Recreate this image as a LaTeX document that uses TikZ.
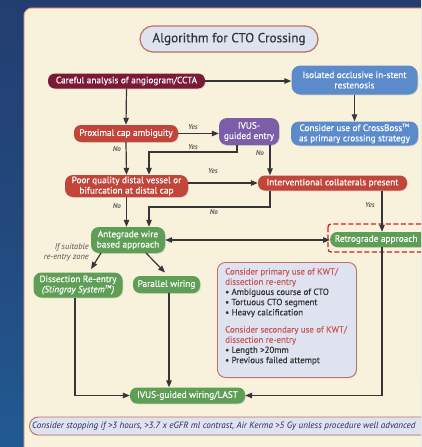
\documentclass[tikz,border=0pt]{standalone}
\usepackage{fontspec}
\setmainfont{PT Sans}
\newfontfamily\semib[FakeBold=0.35]{PT Sans}
\usetikzlibrary{arrows.meta,shadows,calc}
\definecolor{navytop}{HTML}{233D70}
\definecolor{navybot}{HTML}{215A92}
\definecolor{cream}{HTML}{F8F1DC}
\definecolor{panelborder}{HTML}{EFA77A}
\definecolor{maroonbox}{HTML}{7A1A35}
\definecolor{bluebox}{HTML}{5B8BCB}
\definecolor{redbox}{HTML}{C2453A}
\definecolor{purplebox}{HTML}{7B5EA7}
\definecolor{greenbox}{HTML}{5E9E55}
\definecolor{lav}{HTML}{DFE3F0}
\definecolor{lavborder}{HTML}{C0706A}
\definecolor{linec}{HTML}{363636}
\definecolor{hdr}{HTML}{C8585A}
\definecolor{txtgrey}{HTML}{333333}
\definecolor{dashred}{HTML}{D62020}
\tikzset{
  fbox/.style={rounded corners=7pt, text=white, font=\semib\fontsize{9.3}{10.3}\selectfont,
    inner xsep=1pt, inner ysep=0.5pt, align=center,
    drop shadow={opacity=0.25, shadow xshift=0.8pt, shadow yshift=-0.8pt}},
  conn/.style={draw=linec, line width=1.2pt, -{Triangle[length=7pt,width=5.5pt]}},
  lbl/.style={font=\fontsize{7.2}{7}\selectfont\bfseries\itshape, text=linec!75},
  infobox/.style={rounded corners=8pt, fill=lav, draw=lavborder, line width=0.9pt,
    drop shadow={opacity=0.2, shadow xshift=0.8pt, shadow yshift=-0.8pt}},
}
\begin{document}
\begin{tikzpicture}[x=1pt,y=-1pt]
\useasboundingbox (0,0) rectangle (421,447);
\clip (0,0) rectangle (421,447);
\shade[top color=navytop, bottom color=navybot, middle color=navytop!60!navybot] (0,0) rectangle (421,447);
\draw[fill=cream, draw=panelborder, line width=1pt, rounded corners=8pt] (24,8) rectangle (460,470);

% title
\node[infobox, rounded corners=13pt, minimum width=178pt, minimum height=26pt, line width=1.2pt,
  font=\semib\fontsize{13.2}{14}\selectfont, text=txtgrey] (title) at (229,39) {Algorithm for CTO Crossing};

% nodes
\node[fbox, fill=maroonbox, minimum width=157pt, minimum height=15pt] (careful) at (126.5,81) {Careful analysis of angiogram/CCTA};
\node[fbox, fill=bluebox, minimum width=126pt, minimum height=29pt, rounded corners=9pt] (isolated) at (354.5,80) {Isolated occlusive in-stent\\restenosis};
\node[fbox, fill=redbox, minimum width=104pt, minimum height=17pt] (proximal) at (126,133.5) {Proximal cap ambiguity};
\node[fbox, fill=purplebox, minimum width=60pt, minimum height=27pt, rounded corners=8pt] (ivus) at (249,131.5) {IVUS-\\guided entry};
\node[fbox, fill=bluebox, minimum width=127pt, minimum height=24pt, rounded corners=8pt] (crossboss) at (354.5,133.5) {Consider use of CrossBoss\textsuperscript{\tiny TM}\\as primary crossing strategy};
\node[fbox, fill=redbox, minimum width=123pt, minimum height=22pt, rounded corners=8pt] (poor) at (126.5,186) {Poor quality distal vessel or\\bifurcation at distal cap};
\node[fbox, fill=redbox, minimum width=149pt, minimum height=15pt] (interv) at (332.5,183) {Interventional collaterals present};
\node[fbox, fill=greenbox, minimum width=74pt, minimum height=26pt, rounded corners=8pt] (antegrade) at (128,240) {Antegrade wire\\based approach};
\node[fbox, fill=greenbox, minimum height=15pt, anchor=west, inner xsep=3pt, minimum width=100pt, align=left] (retro) at (330,239.5) {Retrograde approach\hspace*{8pt}};
\node[fbox, fill=greenbox, minimum width=89pt, minimum height=25pt, rounded corners=8pt] (dissection) at (78,285) {Dissection Re-entry\\\textit{(Stingray System\textsuperscript{\tiny TM})}};
\node[fbox, fill=greenbox, minimum width=67pt, minimum height=17pt] (parallel) at (166.5,284.5) {Parallel wiring};
\node[fbox, fill=greenbox, minimum width=115pt, minimum height=16pt] (wiring) at (187.5,395.5) {IVUS-guided wiring/LAST};

% dashed retrograde frame
\draw[dashred, dashed, dash pattern=on 5pt off 2.5pt, line width=1.3pt, rounded corners=3pt] (328,224) rectangle (440,252);

% info box
\node[infobox, minimum width=139pt, minimum height=115pt, anchor=north west] (info) at (217,262) {};
\node[anchor=north west, align=left, font=\semib\fontsize{8.9}{10.2}\selectfont, text=txtgrey, inner sep=0pt] (infotext) at (225,268) {%
\textcolor{hdr}{Consider primary use of KWT/}\\
\textcolor{hdr}{dissection re-entry}\\
• Ambiguous course of CTO\\
• Tortuous CTO segment\\
• Heavy calcification\\[7pt]
\textcolor{hdr}{Consider secondary use of KWT/}\\
\textcolor{hdr}{dissection re-entry}\\
• Length >20mm\\
• Previous failed attempt};

% bottom box
\node[infobox, rounded corners=9pt, minimum width=420pt, minimum height=18pt, anchor=west] (stop) at (29,426) {};
\node[anchor=west, font=\fontsize{9.1}{9}\selectfont\itshape, text=txtgrey!80!blue, inner sep=0pt] (stoptext) at (32,426) {Consider stopping if >3 hours, >3.7 x eGFR ml contrast, Air Kerma >5 Gy unless procedure well advanced};

% If suitable label
\node[anchor=east, align=right, font=\fontsize{8.4}{10}\selectfont\itshape, text=txtgrey!85, inner sep=0pt] (suitable) at (89,252) {If suitable\\re-entry zone};

% connectors
\draw[conn] (careful.east) -- (isolated.west |- careful.east);
\draw[conn] (careful.south) -- (proximal.north);
\draw[conn] (isolated.south) -- (crossboss.north);
\draw[conn] (proximal.east) -- (ivus.west |- proximal.east);
\draw[conn] (proximal.south) -- (poor.north);
\draw[conn] (ivus.south -| 237,0) -- (237,152) -- (149,152) -- (poor.north -| 149,0);
\draw[conn] (ivus.south -| 270,0) -- (interv.north -| 270,0);
\draw[conn] (poor.east |- interv.west) -- (interv.west);
\draw[conn] (poor.south) -- (antegrade.north -| poor.south);
\draw[conn] (interv.south -| 270,0) -- (270,207) -- (149,207) -- (antegrade.north -| 149,0);
\draw[conn] (interv.south -| 382,0) -- (retro.north -| 382,0);
\draw[conn, {Triangle[length=7pt,width=5.5pt]}-{Triangle[length=7pt,width=5.5pt]}] (antegrade.east) -- (retro.west |- antegrade.east);
\coordinate (dA) at (101,253);
\coordinate (dB) at (91,269);
\coordinate (pA) at (146,253);
\coordinate (pB) at (165,272.5);
\draw[conn] (dA) -- (dB);
\draw[conn] (pA) -- (pB);
\draw[conn] (retro.south -| 382,0) -- (382,395.5) -- (wiring.east);
\draw[conn] (dissection.south -| 75,0) -- (75,395.5) -- (wiring.west);
\draw[conn] (parallel.south -| 169,0) -- (wiring.north -| 169,0);

% labels
\node[lbl] (l1) at (193,127) {Yes};
\node[lbl] (l2) at (117,149) {No};
\node[lbl] (l3) at (193,147) {Yes};
\node[lbl] (l4) at (260,153) {No};
\node[lbl] (l5) at (213,171) {Yes};
\node[lbl] (l6) at (117,206) {No};
\node[lbl] (l7) at (214,212) {No};
\node[lbl] (l8) at (370,205) {Yes};
\end{tikzpicture}
\end{document}
